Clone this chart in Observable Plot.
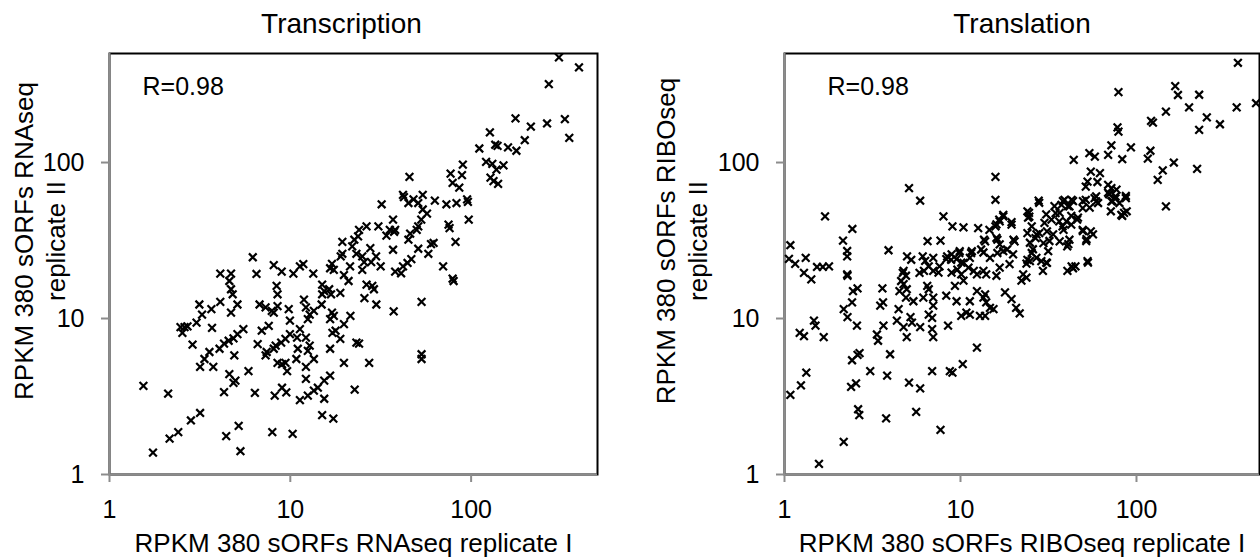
<!DOCTYPE html>
<html>
<head>
<meta charset="utf-8">
<script src="https://cdn.jsdelivr.net/npm/d3@7"></script>
<script src="https://cdn.jsdelivr.net/npm/@observablehq/plot@0.6"></script>
<style>
  body { margin: 0; background: #fff; }
  #chart { position: relative; width: 1260px; height: 558px; overflow: hidden; font-family: "Liberation Sans", Arial, sans-serif; }
  #chart > div { position: absolute; top: 0; }
</style>
</head>
<body>
<div id="chart"><div id="left" style="left:0"></div><div id="right" style="left:630px"></div></div>
<script>
// ---- text ----
const panelTitles = ["Transcription", "Translation"];
const correlationLabels = ["R=0.98", "R=0.98"];
const xAxisLabels = ["RPKM 380 sORFs RNAseq replicate I", "RPKM 380 sORFs RIBOseq replicate I"];
const yAxisLabelsLine1 = ["RPKM 380 sORFs RNAseq", "RPKM 380 sORFs RIBOseq"];
const yAxisLabelsLine2 = ["replicate II", "replicate II"];
const tickValues = [1, 10, 100];
const axisDomain = [1, 500];

// ---- data: [replicate I, replicate II] RPKM ----
const transcriptionPoints = [
[306,472],[395,407],[269,318],[176,192],[214,170],[263,178],[330,190],[349,144],[127,156],[111,123],[136,130],[140,128],[160,125],[178,119],[198,139],[121,101],[131,98],[151,96],[138,90],[128,80],[141,73],[133,76],[90,97],[77,85],[89,83],[79,74],[86,69],[45.6,81],[42,62],[42.5,60],[32,54],[45,55],[48,58],[54,62],[51,55],[63,57],[73,54],[83,55],[95,58],[96,56],[97,43],[75,40],[76,38],[82,31],[54,50],[57,47],[53,43],[51,39],[50,37],[46,35],[45,32],[51,28],[58,26],[60,30],[70,21.6],[79,18],[37,43],[35.5,37],[37.5,36],[38,37],[34,34],[37,27.6],[30.7,39],[26.4,39],[24,37],[23.7,33.6],[22.6,32],[19.4,31],[22,29],[23.2,26],[25,25],[25.6,23],[19.4,26],[19,25],[25,20.5],[27.7,28.3],[29.8,25],[31.6,21.6],[28,23],[21.4,21.6],[19.8,19],[17,22.4],[16.6,21],[17.4,20.5],[42,21.6],[38,20],[41,19.5],[44.5,22.7],[46.7,24],[62,30.5],
[6.2,24.7],[4.1,19.4],[4.7,19.4],[6.5,19.3],[8.1,22],[8.96,20],[10.4,19.4],[11.3,21.6],[11.8,22.3],[13.4,19.4],
[4.6,17.4],[4.7,15.4],[4.8,14.3],[4.7,10.9],[5.1,12.3],[4.1,12.8],[3.66,11.5],[3.14,12.3],[3.25,10.6],[3.03,9.4],[2.7,8.9],[2.6,8.8],[2.47,8.8],[2.53,8.1],[2.88,6.8],[3.69,8.7],[4.06,6.4],[4.3,6.9],[4.56,7.2],[4.85,7.45],[5.1,7.95],[5.5,8.55],[4.9,5.8],[3.57,6.1],[3.35,5.5],[3.17,4.9],[3.75,4.9],[4.6,4.4],[4.97,4.0],[4.85,3.87],[5.87,4.6],[4.3,3.37],[6.37,3.34],[1.54,3.7],[2.11,3.3],[3.17,2.48],[2.82,2.22],[2.4,1.87],[2.15,1.7],[1.74,1.38],[4.42,1.76],[5.18,2.05],[5.3,1.41],[7.95,1.87],[10.3,1.82],[6.6,6.85],[6.76,12.3],[7.3,11.8],[6.95,8.35],[7.6,8.97],[7.3,5.8],[7.4,6.1],[8.1,6.4],[8.3,6.7],[7.9,11.2],[8.1,10.9],[8.5,12.0],[8.5,14.3],[8.4,16.2],[9.8,11.5],[9.95,9.7],[9.95,7.95],[9.4,7.4],[8.9,7.0],[9.0,5.1],[8.5,5.2],[9.6,4.6],[9.4,5.2],[9.0,3.6],[9.5,3.36],[8.2,3.2],[11.0,6.4],[10.8,5.5],[11.3,8.55],[10.9,7.55],[12.2,11.8],[11.9,13.2],[12.8,10.6],[12.5,9.9],[13.5,11.2],[12.2,7.55],[12.8,6.7],[12.5,6.2],[13.5,5.5],[12.2,4.9],[12.2,4.1],[11.3,3.0],[12.5,3.2],[13.5,3.45],[14.2,3.6],[15.4,4.0],[16.6,4.3],[15.4,3.06],[15,2.4],[17.3,2.28],[15,14.3],[15.4,15],[16.4,15.4],[16.8,14.3],[15,16.5],[18.9,14.6],[14.9,12.3],[17,10.9],[17.4,10.4],[16.6,9.9],[19.8,9.2],[17.8,8.35],[17.1,8.1],[18.9,7.4],[16.6,6.4],[21.5,10.4],[19.8,5.2],[23.2,7.0],[24,6.9],[25.7,13.5],[26.4,16.5],[28.4,16.2],[29,15.4],[29.9,12.3],[27.3,5.2],[22.7,3.5],[37.3,11.1],[53.2,12.8],[53.2,5.9],[53.2,5.5],[80,17.4],[21,17.4]
];

const translationPoints = [
[377,436],[79,283],[166,309],[172,271],[227,272],[147,212],[199,226],[251,195],[298,176],[227,162],[371,226],[478,240],[78,168],[79,158],[121,185],[124,180],[93,125],[72,129],[69,112],[83,105],[54,115],[58,109],[44,104],[120,119],[116,106],[163,100],[221,91],[141,89],[132,77.5],[147,52.3],[55,87.5],[62,85.5],[52.7,75.5],[51.5,70],[60,75],[69,72],[72,68.5],[77,67],[69,64],[76,60.6],[87,61],[72,56.3],[80,55],[88,48.7],[82,46.2],[59,56.3],[51.5,57.7],[59,60.6],[49.5,51],[42.8,57.7],[39,57.7],[41.6,52.3],[37.5,53.5],[34.7,47.4],[32.9,43],[36.4,42],[31,36.2],[38.5,37],[46,43],[49.5,37],[55,36.2],[52,32.3],[41.6,32],[40.4,29],[27.8,57],[24,48.7],[24.6,45],[25.4,39],[24,35.3],[26.7,32.8],[28,35.3],[29.6,30.4],[25.4,26.3],[24,23.8],[31,22.7],[42.8,21.6],[45,21.6],[52.7,23.3],[15.8,81],[15.8,57.7],[17.5,46.2],[16.6,43],[15.8,39],[19.5,41.5],[14.6,37],[13.6,32],[13.1,27.7],[16.2,32],[18.4,27.7],[16.2,26.3],[20,32],[5.1,68.5],[5.9,56.9],[8.0,45.2],[9.0,39],[10.4,38.4],[12.6,38],[6.5,31.3],[7.7,31.6],[3.9,27.4],[1.7,45.2],[2.43,37.5],[2.15,31.6],[2.27,27.1],[2.27,25],[1.08,29.5],[1.06,24.1],[1.15,22.4],[1.32,24.5],[1.53,21.4],[1.65,21.4],[1.79,21.6],[1.29,19.6],[2.27,19.2],[4.97,25],[5.25,23.8],[6.1,25],[7.0,24.5],[8.4,25],[8.85,23.8],[9.85,26.3],[11.5,26.3],[10.4,22.7],[9.6,20.6],[7.6,21.6],[6.6,21.6],[4.7,19.6],[5.85,19.6],
[1.42,17.8],[2.28,18.8],[6.3,23.4],[8.3,24],[8.9,25.8],[9.5,24],[9.9,27],[10.1,22.8],[11.3,24.5],[11.6,27],[11.1,21.2],[13.5,26.5],[13.8,31.2],[14.7,24.5],[16,40.1],[16.7,42],[17.5,45.2],[19.5,40],[20.3,31.2],[16,32.9],[16.7,29.9],[17.5,27],[19,22.3],[19.9,25.8],[16.7,21.2],[16,18.8],[14,19.2],[13.5,20.2],[12.4,19.2],[11.9,20.2],[10.1,19.2],[8.9,19.7],[7.5,19.7],[7.0,20.2],[6.2,20.2],[4.75,20.2],[4.9,18.8],[4.6,17.4],[4.75,16.6],[4.95,15.4],[4.5,15.0],[4.9,13.6],[4.45,11.5],[5.4,12.9],[6.15,13.6],[6.6,15.4],[7.0,13.6],[7.0,12.1],[6.6,10.6],[6.9,10.1],[6.9,8.55],[7.0,7.6],[5.9,8.8],[5.2,10.2],[5.3,9.4],[4.75,8.8],[4.95,7.6],[4.35,9.7],[3.65,9.0],[3.5,12.1],[3.6,15.6],[3.35,7.9],[3.4,7.2],[3.98,5.9],[2.45,15],[2.6,15.6],[2.42,12.7],[2.17,11.5],[2.28,10.2],[2.58,9.0],[1.47,9.7],[1.5,9.0],[1.22,8.1],[1.29,7.7],[1.67,7.6],[2.42,5.4],[2.6,5.84],[2.67,6.0],[8.5,9.0],[8.3,14],[9.5,12.9],[11.3,12.9],[12.4,15],[13.5,13.6],[14,12.7],[14.7,11.7],[11.3,10.6],[10.8,10.9],[10.1,10.4],[12.9,10.4],[13.8,10.4],[15.4,11.5],[17.9,14.7],[19.5,13.3],[20.7,11.7],[21.7,10.8],[12.4,6.5],[10.3,5.1],[8.7,4.6],[6.9,4.6],[24.2,44.3],[24.5,47.5],[28,55.2],[30,41],[30.7,46.5],[34.2,52.5],[36.6,47.5],[38.2,56.5],[40.8,52.5],[42.6,45.5],[43.6,56.5],[46.5,44.3],[49.6,56.5],[49.6,36.4],[54.2,51.4],[56.6,34.6],[51.8,31.4],[57.8,59.2],[60.5,55],[70,62.6],[73,56.5],[76,59],[71.5,48.7],[85,47.6],[83,45.5],[87,59.2],[53,22.8],[41,30],[40.5,20.2],[43.6,21],[36.6,31.2],[27,34.6],[24.8,30.6],[25.8,27.8],[27,24.5],[28.8,23.3],[30.7,22.8],[29.4,20.2],[24.8,23.3],[23.7,22.5],[22.7,19.2],[23.7,18.3],[31.5,27],[32,31.4],[33.6,34.6],[38,39],[40,42],[42.6,40],
[1.08,3.24],[1.24,3.73],[1.33,4.5],[2.17,1.62],[1.57,1.17],[2.39,3.65],[2.55,3.84],[2.62,2.62],[2.66,2.4],[3.07,4.6],[3.83,4.3],[3.78,2.29],[5.1,3.88],[5.6,2.52],[5.9,3.57],[7.7,1.93],[9.0,4.5],[6.47,16.2],[9.3,16.2],[10.4,17.5],[22.2,17.5],[13.8,14.3],[3.63,12.7]
];

const FONT = '"Liberation Sans", Arial, sans-serif';
const GRAY = "#8c8c8c";

function panel(i, points, layout) {
  const data = points.map(([rep1, rep2]) => ({rep1, rep2}));
  return Plot.plot({
    width: 630,
    height: 558,
    marginLeft: layout.marginLeft,
    marginRight: layout.marginRight,
    marginTop: 53,
    marginBottom: 84,
    x: {type: "log", domain: axisDomain},
    y: {type: "log", domain: axisDomain},
    style: {fontFamily: FONT, background: "transparent", color: "black", overflow: "visible"},
    marks: [
      Plot.frame({stroke: "black", strokeWidth: 2}),
      Plot.ruleX([axisDomain[0]], {stroke: GRAY, strokeWidth: 2}),
      Plot.ruleY([axisDomain[0]], {stroke: GRAY, strokeWidth: 2}),
      Plot.axisX(tickValues, {tickSize: 8, tickPadding: 18, stroke: GRAY, strokeWidth: 2, fill: "black", fontSize: 25, tickFormat: d => String(d), label: null}),
      Plot.axisY(tickValues, {tickSize: 8, tickPadding: 17, stroke: GRAY, strokeWidth: 2, fill: "black", fontSize: 25, tickFormat: d => String(d), label: null}),
      Plot.dot(data, {x: "rep1", y: "rep2", symbol: "times", r: 3.6, stroke: "black", strokeWidth: 2.2}),
      Plot.text([panelTitles[i]], {frameAnchor: "top", dx: layout.titleDx, dy: -21, fontSize: 28, lineAnchor: "bottom", fill: "black"}),
      Plot.text([correlationLabels[i]], {frameAnchor: "top-left", dx: layout.rDx, dy: 41, fontSize: 25, lineAnchor: "bottom", textAnchor: "start", fill: "black"}),
      Plot.text([xAxisLabels[i]], {frameAnchor: "bottom", dy: 77, fontSize: 26, lineAnchor: "bottom", fill: "black"}),
      Plot.text([yAxisLabelsLine1[i]], {frameAnchor: "left", rotate: -90, dx: layout.y1Dx, dy: -23, fontSize: 26, lineAnchor: "bottom", textAnchor: "middle", fill: "black"}),
      Plot.text([yAxisLabelsLine2[i]], {frameAnchor: "left", rotate: -90, dx: layout.y2Dx, dy: -23, fontSize: 26, lineAnchor: "bottom", textAnchor: "middle", fill: "black"})
    ]
  });
}

document.getElementById("left").appendChild(panel(0, transcriptionPoints, {marginLeft: 109, marginRight: 33, titleDx: -12, rDx: 33, y1Dx: -77, y2Dx: -45}));
document.getElementById("right").appendChild(panel(1, translationPoints, {marginLeft: 154, marginRight: 1, titleDx: 0, rDx: 43, y1Dx: -110, y2Dx: -78}));
</script>
</body>
</html>
